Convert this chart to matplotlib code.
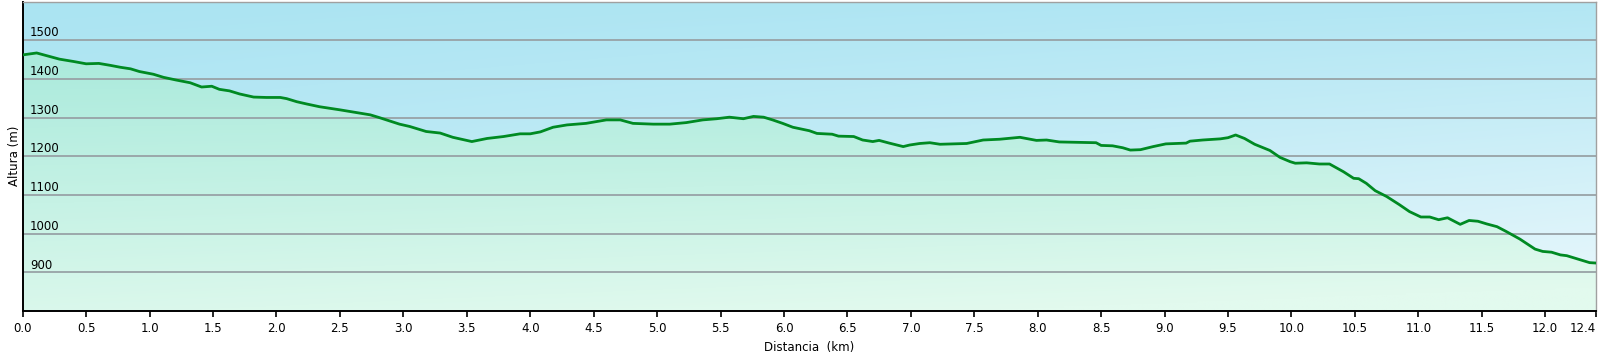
import numpy as np
import matplotlib
matplotlib.use("Agg")
import matplotlib.pyplot as plt

# elevation profile
km = [0.00, 0.11, 0.19, 0.29, 0.40, 0.50, 0.60, 0.69, 0.77, 0.85, 0.92, 1.03, 1.11, 1.21,
      1.32, 1.41, 1.49, 1.55, 1.63, 1.71, 1.82, 1.92, 2.03, 2.08, 2.16, 2.24, 2.34, 2.50,
      2.61, 2.74, 2.81, 2.97, 3.05, 3.18, 3.29, 3.39, 3.54, 3.66, 3.79, 3.92, 4.00, 4.08,
      4.18, 4.29, 4.44, 4.60, 4.71, 4.81, 4.97, 5.10, 5.23, 5.36, 5.47, 5.57, 5.68, 5.76,
      5.84, 5.91, 5.99, 6.07, 6.20, 6.26, 6.38, 6.43, 6.55, 6.62, 6.70, 6.75, 6.83, 6.94,
      6.99, 7.07, 7.15, 7.23, 7.44, 7.57, 7.70, 7.86, 7.99, 8.07, 8.17, 8.31, 8.46, 8.50,
      8.59, 8.67, 8.73, 8.81, 8.91, 9.01, 9.17, 9.20, 9.30, 9.44, 9.50, 9.56, 9.63, 9.71,
      9.83, 9.91, 9.99, 10.03, 10.12, 10.22, 10.30, 10.41, 10.49, 10.53, 10.59, 10.66,
      10.75, 10.85, 10.93, 11.02, 11.09, 11.16, 11.23, 11.33, 11.40, 11.47, 11.54, 11.62,
      11.69, 11.80, 11.92, 11.98, 12.05, 12.12, 12.17, 12.25, 12.35, 12.40]
alt = [1462, 1467, 1460, 1451, 1445, 1439, 1440, 1435, 1430, 1426, 1419, 1412, 1404, 1397,
       1390, 1379, 1381, 1373, 1369, 1361, 1353, 1352, 1352, 1349, 1341, 1335, 1328, 1320,
       1314, 1307, 1300, 1283, 1277, 1264, 1260, 1249, 1238, 1246, 1251, 1258, 1258, 1263,
       1275, 1281, 1285, 1294, 1294, 1285, 1283, 1283, 1287, 1294, 1297, 1301, 1297, 1303,
       1301, 1294, 1285, 1275, 1266, 1259, 1257, 1252, 1251, 1242, 1238, 1241, 1234, 1225,
       1229, 1233, 1235, 1231, 1233, 1242, 1244, 1249, 1241, 1242, 1237, 1236, 1235, 1228,
       1227, 1222, 1216, 1217, 1225, 1232, 1234, 1239, 1242, 1245, 1248, 1255, 1246, 1231,
       1215, 1197, 1186, 1182, 1183, 1180, 1180, 1160, 1143, 1142, 1130, 1111,
       1096, 1075, 1057, 1043, 1043, 1036, 1041, 1024, 1034, 1032, 1025, 1018,
       1006, 986, 960, 954, 952, 945, 943, 935, 925, 924]

xticks = [0.0, 0.5, 1.0, 1.5, 2.0, 2.5, 3.0, 3.5, 4.0, 4.5, 5.0, 5.5, 6.0, 6.5, 7.0, 7.5,
          8.0, 8.5, 9.0, 9.5, 10.0, 10.5, 11.0, 11.5, 12.0, 12.4]
yticks = [900, 1000, 1100, 1200, 1300, 1400, 1500]

x0, x1 = 0, 12.4
y0, y1 = 800, 1600

fig = plt.figure(figsize=(15.99, 3.6), dpi=100)
ax = fig.add_axes([0.0142, 0.1361, 0.9839, 0.8597])

# sky gradient
v = np.linspace(0, 1, 200)[:, None]
h = np.linspace(0, 1, 400)[None, :]
top = np.array([164, 226, 241]) / 255
white = np.array([244, 251, 254]) / 255
f = np.clip(0.08 + 0.6 * v * (0.5 + 0.7 * h) + 0.1 * h, 0, 1)[..., None]
sky = top * (1 - f) + white * f
ax.imshow(sky, extent=[x0, x1, y0, y1], aspect='auto', origin='upper', zorder=0)

# fill under the profile
g = np.linspace(0, 1, 200)[:, None]
ftop = np.array([170, 234, 220]) / 255
fbot = np.array([226, 250, 238]) / 255
k = np.clip(g * (0.85 + 0.25 * h), 0, 1)[..., None]
ground = ftop * (1 - k) + fbot * k
poly = ax.fill_between(km, alt, y0, color='none', lw=0)
img = ax.imshow(ground, extent=[x0, x1, y0, 1470], aspect='auto', origin='upper', zorder=1)
img.set_clip_path(poly.get_paths()[0], transform=ax.transData)

for yt in yticks:
    ax.axhline(yt, color='#98a2a6', lw=1.3, zorder=2)
    ax.text(0.0047, yt + 2, str(yt), transform=ax.get_yaxis_transform(),
            ha='left', va='bottom', fontsize=8.5, color='black', zorder=4)

ax.plot(km, alt, color='#008a22', lw=2.0, zorder=3)

ax.set_xlim(x0, x1)
ax.set_ylim(y0, y1)
ax.set_xticks(xticks)
ax.set_xticklabels([f"{t:.1f}" for t in xticks], fontsize=8.5)
ax.get_xticklabels()[-1].set_horizontalalignment('right')
ax.set_yticks([])
ax.tick_params(axis='x', direction='out', length=4, width=1.2, pad=4)
ax.set_xlabel("Distancia  (km)", fontsize=8.5, labelpad=4)
ax.set_ylabel("Altura (m)", fontsize=8.5, labelpad=1)

for s in ['left', 'bottom']:
    ax.spines[s].set_color('black')
    ax.spines[s].set_linewidth(1.4)
for s in ['top', 'right']:
    ax.spines[s].set_color('#a0a0a0')
    ax.spines[s].set_linewidth(1.0)

fig.savefig("out.png", dpi=100, facecolor='white')
